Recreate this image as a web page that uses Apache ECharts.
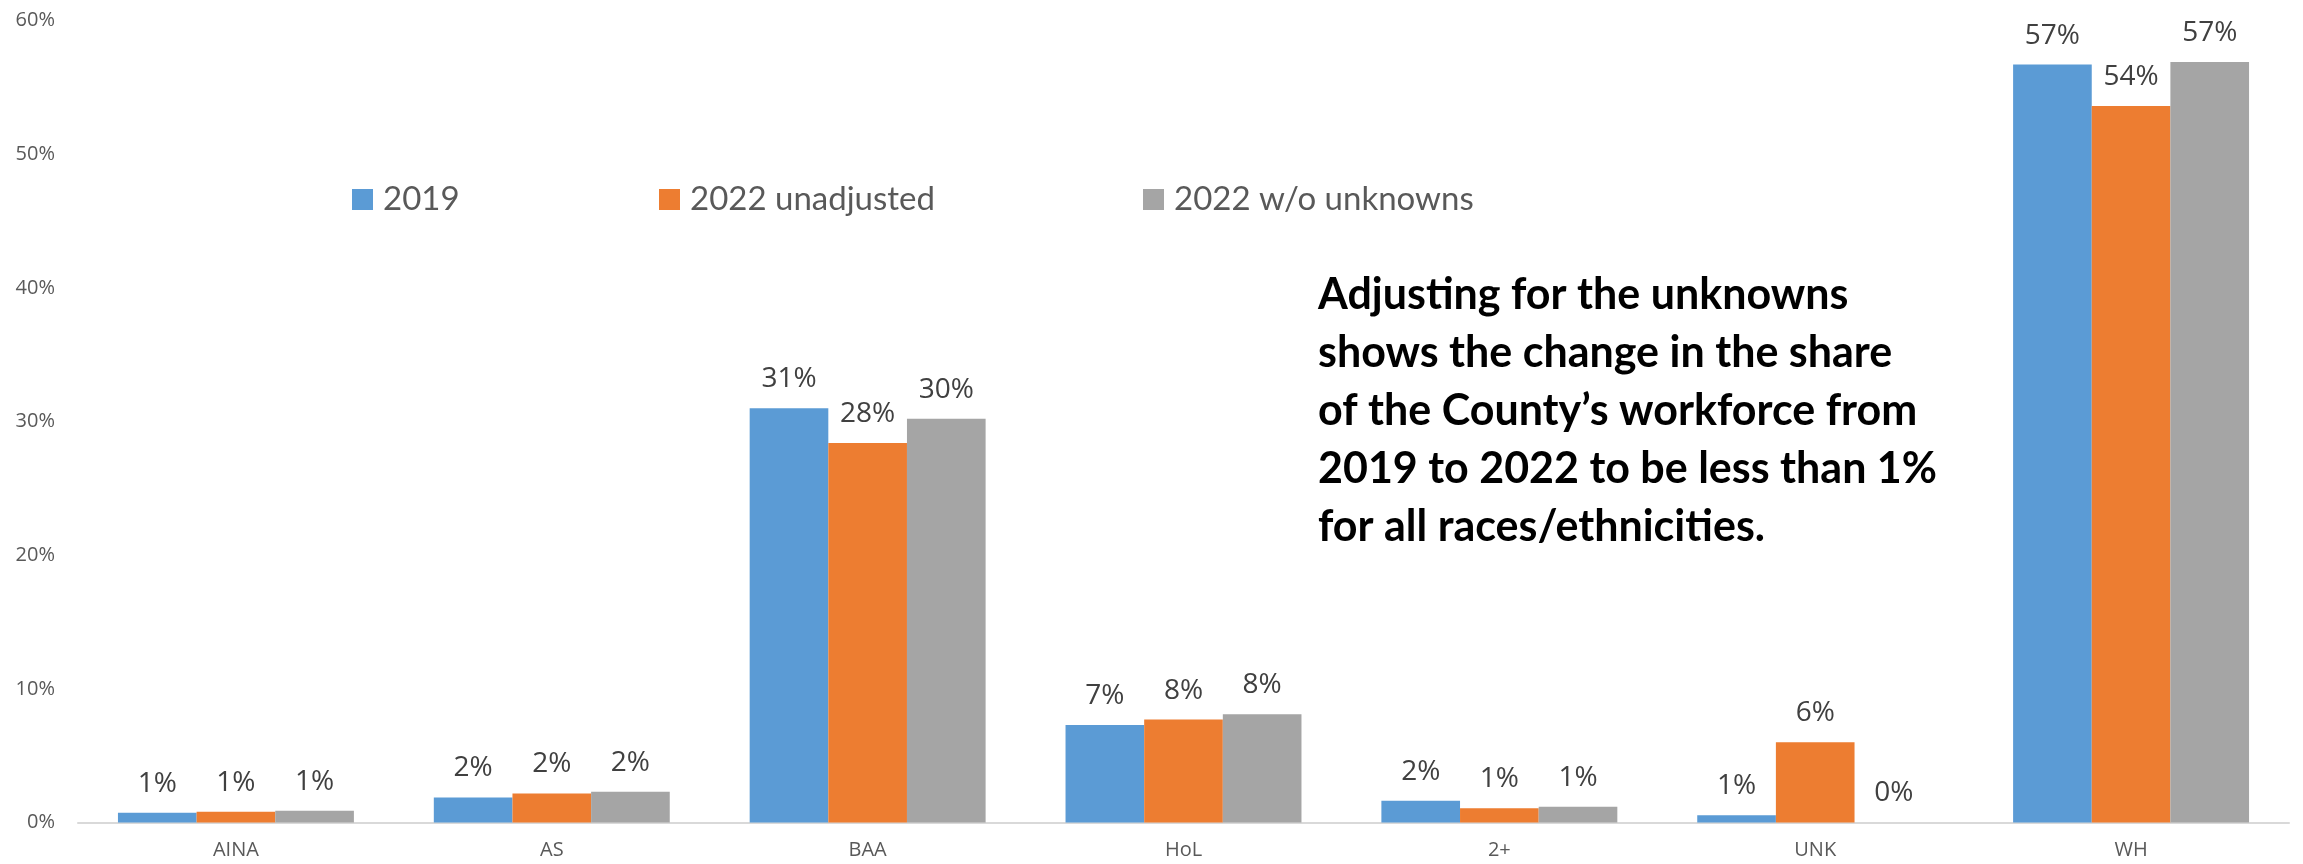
<!DOCTYPE html>
<html>
<head>
<meta charset="utf-8">
<style>
  html, body { margin: 0; padding: 0; background: #ffffff; }
  #chart { width: 2303px; height: 864px; }
</style>
<script src="https://cdn.jsdelivr.net/npm/echarts@6/dist/echarts.min.js"></script>
</head>
<body>
<div id="chart"></div>
<script>
// Share of the County's workforce by race/ethnicity, in percent
const categories = ['AINA', 'AS', 'BAA', 'HoL', '2+', 'UNK', 'WH'];
const seriesNames = ['2019', '2022 unadjusted', '2022 w/o unknowns'];
const share2019 = [0.73, 1.87, 31.0, 7.3, 1.62, 0.55, 56.7];
const share2022Unadjusted = [0.81, 2.17, 28.4, 7.7, 1.07, 6.0, 53.6];
const share2022NoUnknowns = [0.88, 2.3, 30.2, 8.1, 1.18, 0, 56.9];
const yTicks = { min: 0, max: 60, interval: 10 };
const noteLines = [
  'Adjusting for the unknowns',
  'shows the change in the share',
  'of the County\u2019s workforce from',
  '2019 to 2022 to be less than 1%',
  'for all races/ethnicities.'
];

const colors = ['#5B9BD5', '#ED7D31', '#A5A5A5'];
const seriesData = [share2019, share2022Unadjusted, share2022NoUnknowns];
const legendLeft = [352, 659, 1143];

const chart = echarts.init(document.getElementById('chart'), null, { renderer: 'canvas' });

const option = {
  animation: false,
  backgroundColor: '#ffffff',
  grid: { left: 78, right: 14, top: 20.5, bottom: 41.5, containLabel: false },
  legend: seriesNames.map((name, i) => ({
    data: [name],
    left: legendLeft[i],
    top: 183,
    padding: 0,
    icon: 'rect',
    itemWidth: 21,
    itemHeight: 21,
    selectedMode: false,
    textStyle: {
      fontFamily: 'Lato',
      fontSize: 33,
      color: '#595959',
      padding: [0, 0, 0, 5]
    }
  })),
  xAxis: {
    type: 'category',
    data: categories,
    axisLine: { show: true, lineStyle: { color: '#D9D9D9', width: 2 } },
    axisTick: { show: false },
    axisLabel: {
      margin: 18,
      fontFamily: 'Open Sans',
      fontSize: 20,
      color: '#595959'
    }
  },
  yAxis: {
    type: 'value',
    min: yTicks.min,
    max: yTicks.max,
    interval: yTicks.interval,
    axisLine: { show: false },
    axisTick: { show: false },
    splitLine: { show: false },
    axisLabel: {
      margin: 23,
      fontFamily: 'Open Sans',
      fontSize: 20,
      color: '#595959',
      formatter: '{value}%'
    }
  },
  series: seriesNames.map((name, i) => ({
    name: name,
    type: 'bar',
    data: seriesData[i],
    barGap: '0%',
    barCategoryGap: '25.3%',
    itemStyle: { color: colors[i] },
    label: {
      show: true,
      position: 'top',
      distance: 15,
      fontFamily: 'Open Sans',
      fontSize: 28,
      color: '#404040',
      formatter: p => Math.round(p.value) + '%'
    }
  })),
  graphic: [{
    type: 'text',
    left: 1318,
    top: 266,
    style: {
      text: noteLines.join('\n'),
      fontFamily: 'Lato',
      fontWeight: 'bold',
      fontSize: 43,
      lineHeight: 58,
      fill: '#000000'
    }
  }]
};

chart.setOption(option);
</script>
</body>
</html>
